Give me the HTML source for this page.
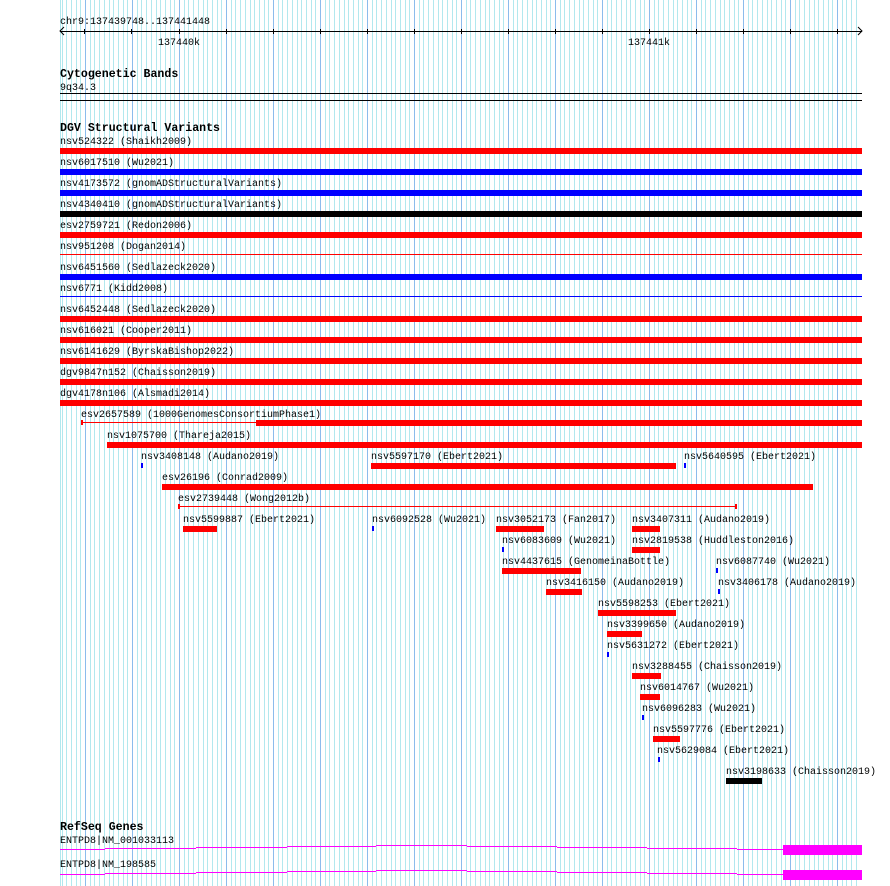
<!DOCTYPE html>
<html><head><meta charset="utf-8"><style>
html,body{margin:0;padding:0;background:#fff;width:890px;height:886px;overflow:hidden}
svg{display:block}
text{font-family:"Liberation Mono",monospace;font-size:10px;fill:#000}
.b{font-weight:bold;font-size:11.6px}
</style></head><body>
<svg width="890" height="886" viewBox="0 0 890 886" shape-rendering="crispEdges">
<path stroke="#b2e8ee" stroke-width="1" fill="none" d="M60.5 0V886M62.5 0V886M66.5 0V886M71.5 0V886M76.5 0V886M80.5 0V886
M90.5 0V886M94.5 0V886M99.5 0V886M104.5 0V886M109.5 0V886M113.5 0V886M118.5 0V886M123.5 0V886M127.5 0V886
M137.5 0V886M141.5 0V886M146.5 0V886M151.5 0V886M156.5 0V886M160.5 0V886M165.5 0V886M170.5 0V886M174.5 0V886
M184.5 0V886M188.5 0V886M193.5 0V886M198.5 0V886M203.5 0V886M207.5 0V886M212.5 0V886M217.5 0V886M221.5 0V886
M231.5 0V886M235.5 0V886M240.5 0V886M245.5 0V886M250.5 0V886M254.5 0V886M259.5 0V886M264.5 0V886M268.5 0V886
M278.5 0V886M282.5 0V886M287.5 0V886M292.5 0V886M297.5 0V886M301.5 0V886M306.5 0V886M311.5 0V886M315.5 0V886
M325.5 0V886M329.5 0V886M334.5 0V886M339.5 0V886M344.5 0V886M348.5 0V886M353.5 0V886M358.5 0V886M362.5 0V886
M372.5 0V886M376.5 0V886M381.5 0V886M386.5 0V886M391.5 0V886M395.5 0V886M400.5 0V886M405.5 0V886M409.5 0V886
M419.5 0V886M423.5 0V886M428.5 0V886M433.5 0V886M438.5 0V886M442.5 0V886M447.5 0V886M452.5 0V886M456.5 0V886
M466.5 0V886M470.5 0V886M475.5 0V886M480.5 0V886M485.5 0V886M489.5 0V886M494.5 0V886M499.5 0V886M503.5 0V886
M513.5 0V886M517.5 0V886M522.5 0V886M527.5 0V886M532.5 0V886M536.5 0V886M541.5 0V886M546.5 0V886M550.5 0V886
M560.5 0V886M564.5 0V886M569.5 0V886M574.5 0V886M579.5 0V886M583.5 0V886M588.5 0V886M593.5 0V886M597.5 0V886
M607.5 0V886M611.5 0V886M616.5 0V886M621.5 0V886M626.5 0V886M630.5 0V886M635.5 0V886M640.5 0V886M644.5 0V886
M654.5 0V886M658.5 0V886M663.5 0V886M668.5 0V886M673.5 0V886M677.5 0V886M682.5 0V886M687.5 0V886M691.5 0V886
M701.5 0V886M705.5 0V886M710.5 0V886M715.5 0V886M720.5 0V886M724.5 0V886M729.5 0V886M734.5 0V886M738.5 0V886
M748.5 0V886M752.5 0V886M757.5 0V886M762.5 0V886M767.5 0V886M771.5 0V886M776.5 0V886M781.5 0V886M785.5 0V886
M795.5 0V886M799.5 0V886M804.5 0V886M809.5 0V886M814.5 0V886M818.5 0V886M823.5 0V886M828.5 0V886M832.5 0V886
M842.5 0V886M846.5 0V886M851.5 0V886M856.5 0V886"/>
<path stroke="#8cbcec" stroke-width="1" fill="none" d="M85.5 0V886M132.5 0V886M179.5 0V886M226.5 0V886M273.5 0V886M320.5 0V886M367.5 0V886M414.5 0V886M461.5 0V886M508.5 0V886M555.5 0V886M602.5 0V886M649.5 0V886M696.5 0V886M743.5 0V886M790.5 0V886M837.5 0V886"/>

<!-- ruler -->
<text x="60" y="24">chr9:137439748..137441448</text>
<rect x="60" y="31" width="802" height="1" fill="#000"/>
<path d="M64 27 L60 31 L64 35 M858 27 L862 31 L858 35" stroke="#000" fill="none" shape-rendering="auto"/>
<g fill="#000">
<rect x="84" y="29" width="1" height="5"/><rect x="131" y="29" width="1" height="5"/><rect x="179" y="29" width="1" height="5"/><rect x="226" y="29" width="1" height="5"/><rect x="273" y="29" width="1" height="5"/><rect x="320" y="29" width="1" height="5"/><rect x="367" y="29" width="1" height="5"/><rect x="414" y="29" width="1" height="5"/><rect x="461" y="29" width="1" height="5"/><rect x="508" y="29" width="1" height="5"/><rect x="555" y="29" width="1" height="5"/><rect x="602" y="29" width="1" height="5"/><rect x="649" y="29" width="1" height="5"/><rect x="696" y="29" width="1" height="5"/><rect x="743" y="29" width="1" height="5"/><rect x="790" y="29" width="1" height="5"/><rect x="837" y="29" width="1" height="5"/>
</g>
<text x="158" y="45">137440k</text>
<text x="628" y="45">137441k</text>

<text class="b" x="60" y="77">Cytogenetic Bands</text>
<text x="60" y="90">9q34.3</text>
<rect x="60" y="93" width="802" height="1" fill="#000"/>
<rect x="60" y="100" width="802" height="1" fill="#000"/>

<text class="b" x="60" y="131">DGV Structural Variants</text>

<text x="60" y="144">nsv524322 (Shaikh2009)</text><rect x="60" y="148" width="802" height="6" fill="#f00"/>
<text x="60" y="165">nsv6017510 (Wu2021)</text><rect x="60" y="169" width="802" height="6" fill="#00f"/>
<text x="60" y="186">nsv4173572 (gnomADStructuralVariants)</text><rect x="60" y="190" width="802" height="6" fill="#00f"/>
<text x="60" y="207">nsv4340410 (gnomADStructuralVariants)</text><rect x="60" y="211" width="802" height="6" fill="#000"/>
<text x="60" y="228">esv2759721 (Redon2006)</text><rect x="60" y="232" width="802" height="6" fill="#f00"/>
<text x="60" y="249">nsv951208 (Dogan2014)</text><rect x="60" y="254" width="802" height="1" fill="#f00"/>
<text x="60" y="270">nsv6451560 (Sedlazeck2020)</text><rect x="60" y="274" width="802" height="6" fill="#00f"/>
<text x="60" y="291">nsv6771 (Kidd2008)</text><rect x="60" y="296" width="802" height="1" fill="#00f"/>
<text x="60" y="312">nsv6452448 (Sedlazeck2020)</text><rect x="60" y="316" width="802" height="6" fill="#f00"/>
<text x="60" y="333">nsv616021 (Cooper2011)</text><rect x="60" y="337" width="802" height="6" fill="#f00"/>
<text x="60" y="354">nsv6141629 (ByrskaBishop2022)</text><rect x="60" y="358" width="802" height="6" fill="#f00"/>
<text x="60" y="375">dgv9847n152 (Chaisson2019)</text><rect x="60" y="379" width="802" height="6" fill="#f00"/>
<text x="60" y="396">dgv4178n106 (Alsmadi2014)</text><rect x="60" y="400" width="802" height="6" fill="#f00"/>

<text x="81" y="417">esv2657589 (1000GenomesConsortiumPhase1)</text>
<rect x="81" y="422" width="175" height="1" fill="#f00"/><rect x="81" y="420" width="2" height="5" fill="#f00"/><rect x="256" y="420" width="606" height="6" fill="#f00"/>

<text x="107" y="438">nsv1075700 (Thareja2015)</text><rect x="107" y="442" width="755" height="6" fill="#f00"/>

<text x="141" y="459">nsv3408148 (Audano2019)</text><rect x="141" y="463" width="2" height="5" fill="#00f"/>
<text x="371" y="459">nsv5597170 (Ebert2021)</text><rect x="371" y="463" width="305" height="6" fill="#f00"/>
<text x="684" y="459">nsv5640595 (Ebert2021)</text><rect x="684" y="463" width="2" height="5" fill="#00f"/>

<text x="162" y="480">esv26196 (Conrad2009)</text><rect x="162" y="484" width="651" height="6" fill="#f00"/>

<text x="178" y="501">esv2739448 (Wong2012b)</text>
<rect x="178" y="506" width="559" height="1" fill="#f00"/><rect x="178" y="504" width="2" height="5" fill="#f00"/><rect x="735" y="504" width="2" height="5" fill="#f00"/>

<text x="183" y="522">nsv5599887 (Ebert2021)</text><rect x="183" y="526" width="34" height="6" fill="#f00"/>
<text x="372" y="522">nsv6092528 (Wu2021)</text><rect x="372" y="526" width="2" height="5" fill="#00f"/>
<text x="496" y="522">nsv3052173 (Fan2017)</text><rect x="496" y="526" width="48" height="6" fill="#f00"/>
<text x="632" y="522">nsv3407311 (Audano2019)</text><rect x="632" y="526" width="28" height="6" fill="#f00"/>

<text x="502" y="543">nsv6083609 (Wu2021)</text><rect x="502" y="547" width="2" height="5" fill="#00f"/>
<text x="632" y="543">nsv2819538 (Huddleston2016)</text><rect x="632" y="547" width="28" height="6" fill="#f00"/>

<text x="502" y="564">nsv4437615 (GenomeinaBottle)</text><rect x="502" y="568" width="79" height="6" fill="#f00"/>
<text x="716" y="564">nsv6087740 (Wu2021)</text><rect x="716" y="568" width="2" height="5" fill="#00f"/>

<text x="546" y="585">nsv3416150 (Audano2019)</text><rect x="546" y="589" width="36" height="6" fill="#f00"/>
<text x="718" y="585">nsv3406178 (Audano2019)</text><rect x="718" y="589" width="2" height="5" fill="#00f"/>

<text x="598" y="606">nsv5598253 (Ebert2021)</text><rect x="598" y="610" width="78" height="6" fill="#f00"/>
<text x="607" y="627">nsv3399650 (Audano2019)</text><rect x="607" y="631" width="35" height="6" fill="#f00"/>
<text x="607" y="648">nsv5631272 (Ebert2021)</text><rect x="607" y="652" width="2" height="5" fill="#00f"/>
<text x="632" y="669">nsv3288455 (Chaisson2019)</text><rect x="632" y="673" width="29" height="6" fill="#f00"/>
<text x="640" y="690">nsv6014767 (Wu2021)</text><rect x="640" y="694" width="20" height="6" fill="#f00"/>
<text x="642" y="711">nsv6096283 (Wu2021)</text><rect x="642" y="715" width="2" height="5" fill="#00f"/>
<text x="653" y="732">nsv5597776 (Ebert2021)</text><rect x="653" y="736" width="27" height="6" fill="#f00"/>
<text x="657" y="753">nsv5629084 (Ebert2021)</text><rect x="658" y="757" width="2" height="5" fill="#00f"/>
<text x="726" y="774">nsv3198633 (Chaisson2019)</text><rect x="726" y="778" width="36" height="6" fill="#000"/>

<!-- RefSeq -->
<text class="b" x="60" y="830">RefSeq Genes</text>
<text x="60" y="843">ENTPD8|NM_001033113</text>
<g fill="#f0f">
<rect x="60" y="849" width="45" height="1"/><rect x="105" y="848" width="91" height="1"/><rect x="196" y="847" width="91" height="1"/><rect x="287" y="846" width="89" height="1"/><rect x="376" y="845" width="91" height="1"/><rect x="467" y="846" width="90" height="1"/><rect x="557" y="847" width="90" height="1"/><rect x="647" y="848" width="90" height="1"/><rect x="737" y="849" width="46" height="1"/>
<rect x="783" y="845" width="79" height="10"/>
</g>
<text x="60" y="867">ENTPD8|NM_198585</text>
<g fill="#f0f">
<rect x="60" y="874" width="45" height="1"/><rect x="105" y="873" width="91" height="1"/><rect x="196" y="872" width="91" height="1"/><rect x="287" y="871" width="89" height="1"/><rect x="376" y="870" width="91" height="1"/><rect x="467" y="871" width="90" height="1"/><rect x="557" y="872" width="90" height="1"/><rect x="647" y="873" width="90" height="1"/><rect x="737" y="874" width="46" height="1"/>
<rect x="783" y="870" width="79" height="10"/>
</g>
</svg>
</body></html>
